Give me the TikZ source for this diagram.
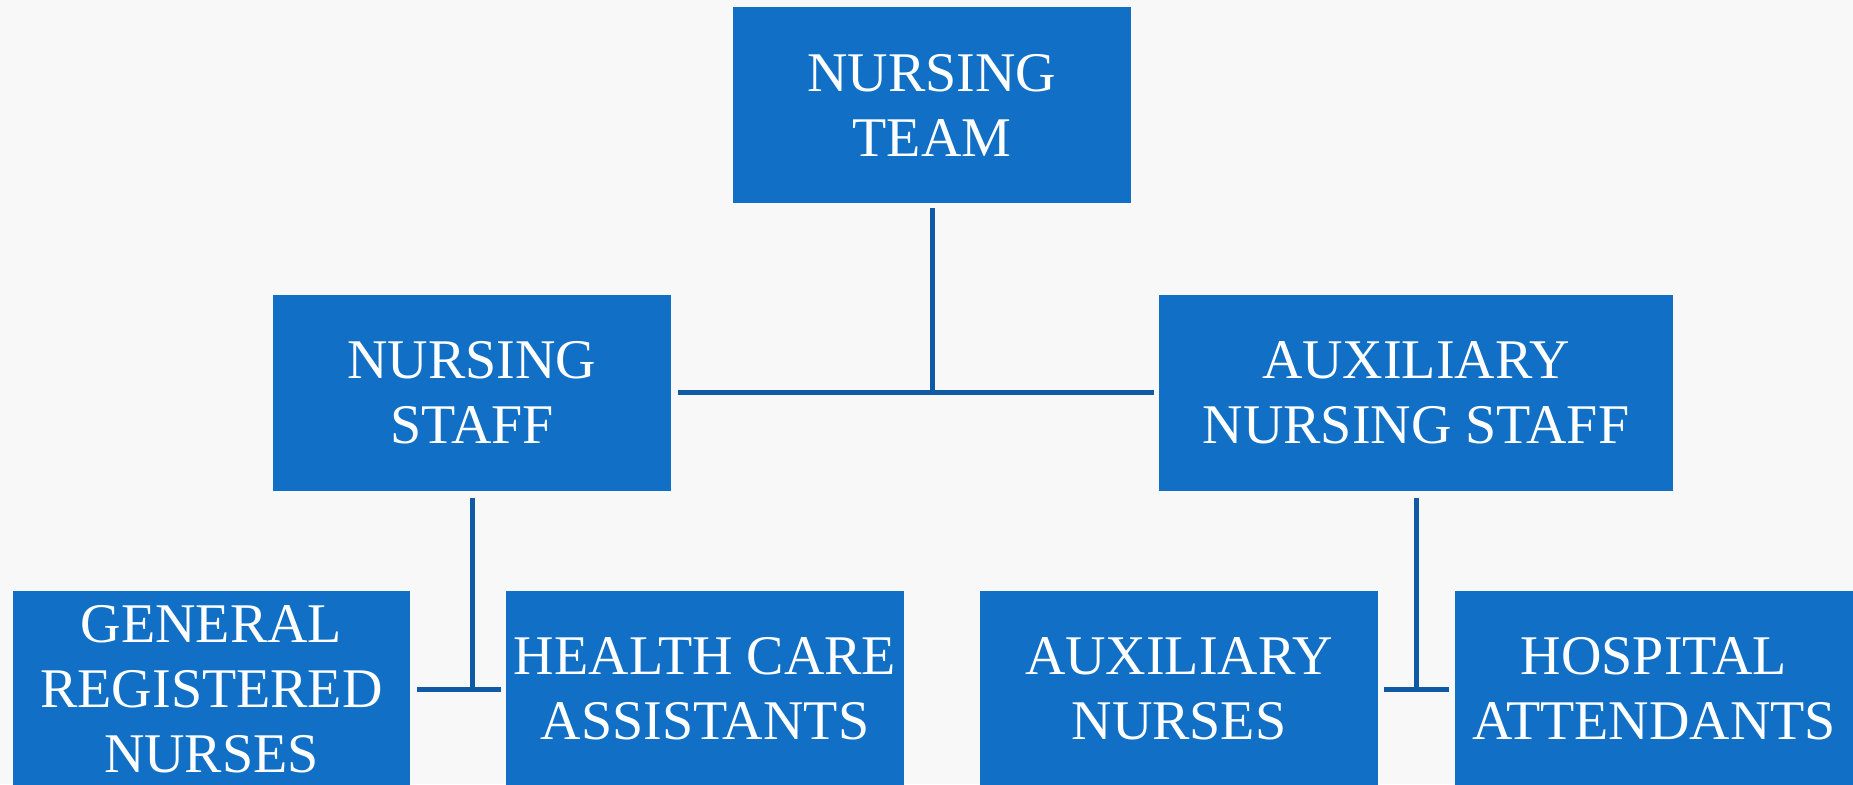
\documentclass[tikz,border=0pt]{standalone}
\usepackage{fontspec}
\setmainfont{Liberation Serif}
\definecolor{boxblue}{RGB}{17,112,198}
\definecolor{lineblue}{RGB}{14,90,165}
\definecolor{bgcol}{RGB}{248,248,248}
\tikzset{
  orgbox/.style={fill=boxblue, draw=none, text=white, inner sep=0pt, align=center,
    minimum height=98pt, font=\fontsize{28pt}{32.5pt}\selectfont},
  conn/.style={draw=lineblue, line width=2.5pt}
}
\begin{document}
\begin{tikzpicture}[x=0.5pt, y=-0.5pt]
\useasboundingbox (0,0) rectangle (1853,784);
\clip (0,0) rectangle (1853,784);
\fill[bgcol] (0,0) rectangle (1853,784);
\node[orgbox, minimum width=199pt] (team) at (932,105) {NURSING\\TEAM};
\node[orgbox, minimum width=199pt] (staff) at (472,392.5) {NURSING\\STAFF};
\node[orgbox, minimum width=257pt] (aux) at (1416,392.5) {AUXILIARY\\NURSING STAFF};
\node[orgbox, minimum width=198.5pt] (grn) at (211.5,689) {GENERAL\\REGISTERED\\NURSES};
\node[orgbox, minimum width=199pt] (hca) at (705,689) {HEALTH CARE\\ASSISTANTS};
\node[orgbox, minimum width=199pt] (an) at (1179,689) {AUXILIARY\\NURSES};
\node[orgbox, minimum width=199pt] (ha) at (1654,689) {HOSPITAL\\ATTENDANTS};
% connectors
\draw[conn] ([yshift=-2.5pt]team.south) -- (team.south |- staff.east);
\draw[conn] ([xshift=3.5pt]staff.east) -- ([xshift=-2.5pt]aux.west);
\draw[conn] ([yshift=-3.5pt]staff.south) -- (staff.south |- grn.east);
\draw[conn] ([xshift=3.5pt]grn.east) -- ([xshift=-2.5pt]hca.west);
\draw[conn] ([yshift=-3.5pt]aux.south) -- (aux.south |- an.east);
\draw[conn] ([xshift=3pt]an.east) -- ([xshift=-3pt]ha.west);
\end{tikzpicture}
\end{document}
